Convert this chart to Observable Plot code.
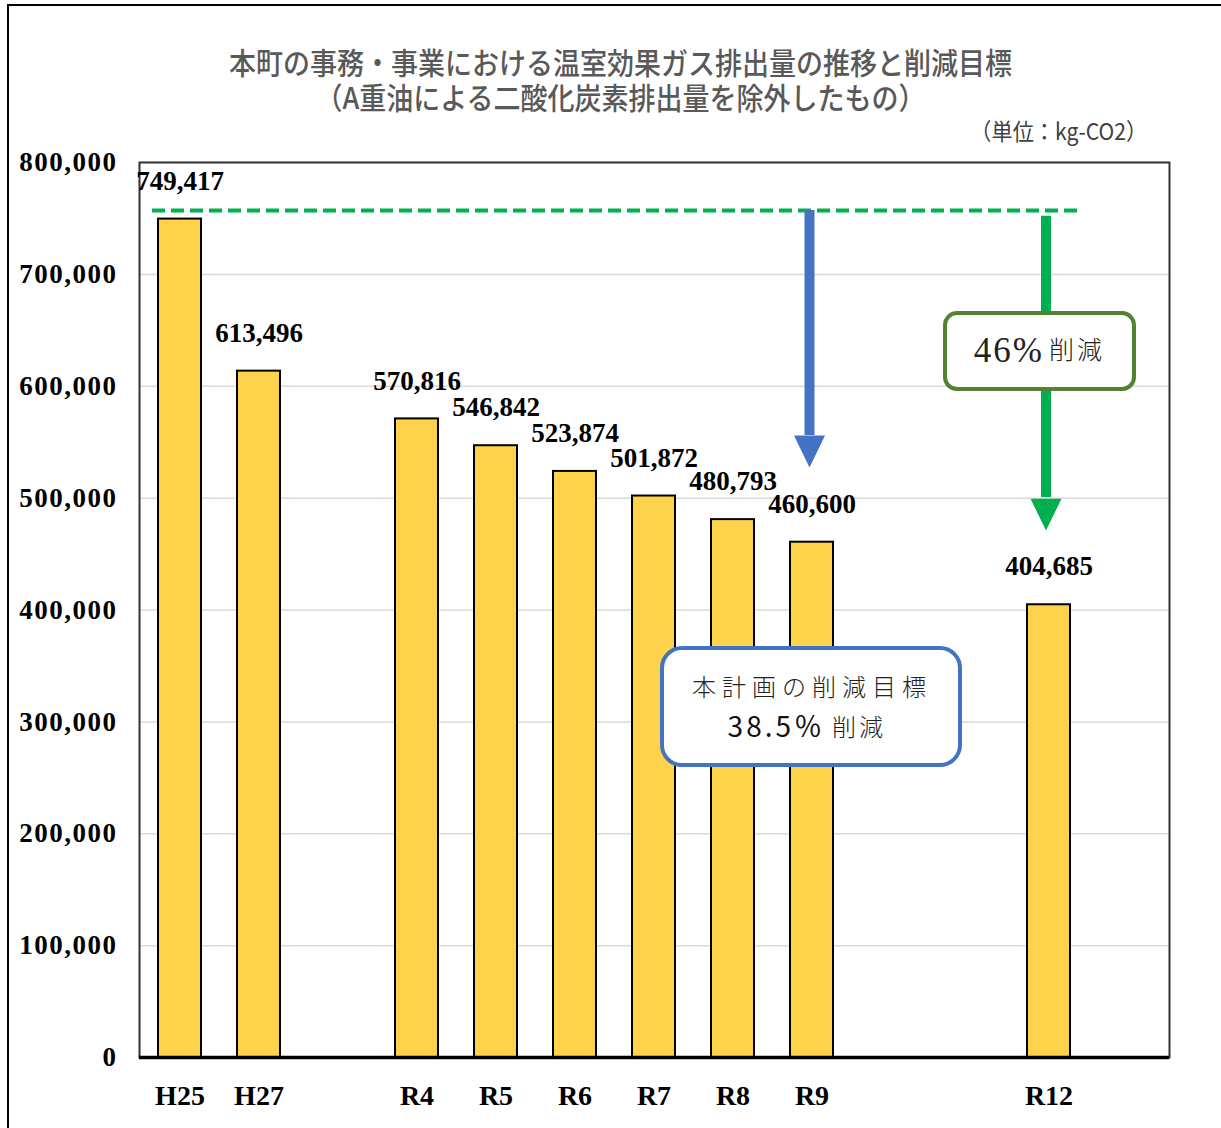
<!DOCTYPE html>
<html>
<head>
<meta charset="utf-8">
<script src="https://cdn.jsdelivr.net/npm/d3@7"></script>
<script src="https://cdn.jsdelivr.net/npm/@observablehq/plot@0.6"></script>
<style>
  html, body { margin: 0; padding: 0; overflow: hidden; background: #fff; }
  #wrap { position: relative; width: 1221px; height: 1128px; overflow: hidden; background: #fff; }
  #border { position: absolute; left: 7px; top: 4px; width: 1400px; height: 1400px; border: 2px solid #000; z-index: 5; pointer-events: none; }
  #head { position: relative; height: 140px; }
  .title { position: absolute; left: 10px; top: 44px; width: 1221px; text-align: center; font-family: "Noto Sans CJK JP", sans-serif; font-weight: 500; font-size: 30px; line-height: 35px; color: #595959; transform: scaleX(0.9); transform-origin: center; white-space: pre-line; }
  .unit { position: absolute; right: 74px; top: 116px; font-family: "Noto Sans CJK JP", sans-serif; font-size: 23px; line-height: 28px; color: #404040; transform: scaleX(0.92); transform-origin: right center; white-space: nowrap; }
</style>
</head>
<body>
<div id="wrap">
  <div id="head">
    <div class="title" id="title"></div>
    <div class="unit">（単位：kg-CO2）</div>
  </div>
  <div id="chart"></div>
  <div id="border"></div>
</div>
<script>
// ---- data ----
const titleLines = ["本町の事務・事業における温室効果ガス排出量の推移と削減目標", "（A重油による二酸化炭素排出量を除外したもの）"];
const years = ["H25", "H27", "R4", "R5", "R6", "R7", "R8", "R9", "R12"];
const emissions = [749417, 613496, 570816, 546842, 523874, 501872, 480793, 460600, 404685];
// category slots along the x axis (empty slots are gaps in the original chart)
const xSlots = ["H25", "H27", "_gap1", "R4", "R5", "R6", "R7", "R8", "R9", "_gap2", "_gap3", "R12", "_gap4"];
const yTicks = [0, 100000, 200000, 300000, 400000, 500000, 600000, 700000, 800000];

// annotation values (in data units)
const baselineLevel = 757000;
const planArrow = {x: "R9", top: 757000, headBase: 556000, tip: 527400};
const goalArrow = {x: "R12", top: 752000, headBase: 500600, tip: 471000};
const planBox = {x: "R9", y1: 261000, y2: 365600};
const goalBox = {x: "R12", y1: 597100, y2: 665000};
const planText1 = {x: "R9", y: 329800, text: "本計画の削減目標"};
const planText2 = {x: "R9", y: 294100, num: "38.5％", word: "削減"};
const goalText = {x: "R12", y: 632000, num: "46%", word: "削減"};

document.getElementById("title").textContent = titleLines.join("\n");

const data = years.map((year, i) => ({year, value: emissions[i]}));
const fmt = d3.format(",");

// downward arrowhead symbol with its tip at the origin
const arrowHead = {
  draw(context, size) {
    const r = Math.sqrt(size / Math.PI);
    const w = r, h = r * 2.06;
    context.moveTo(-w, -h);
    context.lineTo(w, -h);
    context.lineTo(0, 0);
    context.closePath();
  }
};

const serif = "Liberation Serif, DejaVu Serif, serif";
const jp = "Noto Sans CJK JP, sans-serif";

const chart = Plot.plot({
  width: 1221,
  height: 988,
  marginLeft: 139,
  marginRight: 52,
  marginTop: 22,
  marginBottom: 71,
  style: {background: "transparent", fontFamily: serif, fontWeight: "bold", color: "#000", overflow: "visible"},
  x: {domain: xSlots, paddingInner: 0.45, paddingOuter: 0.225, axis: null},
  y: {domain: [0, 800000], axis: null},
  marks: [
    Plot.gridY(yTicks.filter(d => d > 0), {stroke: "#d9d9d9", strokeOpacity: 1, strokeWidth: 1.5}),
    Plot.frame({stroke: "#333", strokeWidth: 2}),
    Plot.axisY({ticks: yTicks, tickFormat: fmt, tickSize: 0, tickPadding: 22, fontSize: 27, fontWeight: "bold", label: null}),
    Plot.axisX({tickSize: 0, tickPadding: 28, tickFormat: d => d.startsWith("_") ? "" : d, fontSize: 28, fontWeight: "bold", label: null}),
    Plot.barY(data, {x: "year", y: "value", fill: "#FFD24C", stroke: "#000", strokeWidth: 2}),
    Plot.ruleY([0], {stroke: "#000", strokeWidth: 3.5}),
    Plot.ruleY([baselineLevel], {stroke: "#00B050", strokeWidth: 4, strokeDasharray: "13,6", insetLeft: 13, insetRight: 86}),
    Plot.text(data, {x: "year", y: "value", text: d => fmt(d.value), dy: -38, fontSize: 27, fontWeight: "bold", fontFamily: serif, fill: "#000"}),
    // arrows
    Plot.ruleX([planArrow], {x: "x", y1: "top", y2: "headBase", stroke: "#4472C4", strokeWidth: 10, dx: -2.5}),
    Plot.dot([planArrow], {x: "x", y: "tip", symbol: arrowHead, r: 15.5, fill: "#4472C4", stroke: null, dx: -2.5}),
    Plot.ruleX([goalArrow], {x: "x", y1: "top", y2: "headBase", stroke: "#00B050", strokeWidth: 10, dx: -3}),
    Plot.dot([goalArrow], {x: "x", y: "tip", symbol: arrowHead, r: 15.5, fill: "#00B050", stroke: null, dx: -3}),
    // boxes
    Plot.barY([goalBox], {x: "x", y1: "y1", y2: "y2", fill: "white", stroke: "#548235", strokeWidth: 4, rx: 12, insetLeft: -82, insetRight: -64}),
    Plot.barY([planBox], {x: "x", y1: "y1", y2: "y2", fill: "white", stroke: "#4472C4", strokeWidth: 4, rx: 20, insetLeft: -128, insetRight: -127}),
    // box texts
    Plot.text([goalText], {x: "x", y: "y", text: "num", textAnchor: "end", dx: -5, fontSize: 35, fontWeight: "normal", fontFamily: serif, fill: "#222"}),
    Plot.text([goalText], {x: "x", y: "y", text: "word", textAnchor: "start", dx: 0, dy: 1, fontSize: 25, fontWeight: 300, fontFamily: jp, fill: "#222"}),
    Plot.text([planText1], {x: "x", y: "y", text: "text", dx: 0, fontSize: 24, fontWeight: 300, fontFamily: jp, fill: "#222"}),
    Plot.text([planText2], {x: "x", y: "y", text: "num", textAnchor: "end", dx: 13, fontSize: 28, fontWeight: "normal", fontFamily: jp, fill: "#111"}),
    Plot.text([planText2], {x: "x", y: "y", text: "word", textAnchor: "start", dx: 20, fontSize: 24, fontWeight: 300, fontFamily: jp, fill: "#222"})
  ]
});

const sel = d3.select(chart);
sel.selectAll("text")
  .filter(function() { return this.textContent === planText1.text; })
  .style("letter-spacing", "6px");
sel.selectAll("text")
  .filter(function() { return this.textContent === planText2.num || this.textContent === planText2.word || this.textContent === goalText.word; })
  .style("letter-spacing", "3px");
sel.selectAll("text")
  .filter(function() { return this.textContent === goalText.num; })
  .style("font-family", serif).style("letter-spacing", "2px");
sel.selectAll('g[aria-label="y-axis tick label"] text').style("letter-spacing", "1.5px");

document.getElementById("chart").appendChild(chart);
</script>
</body>
</html>
